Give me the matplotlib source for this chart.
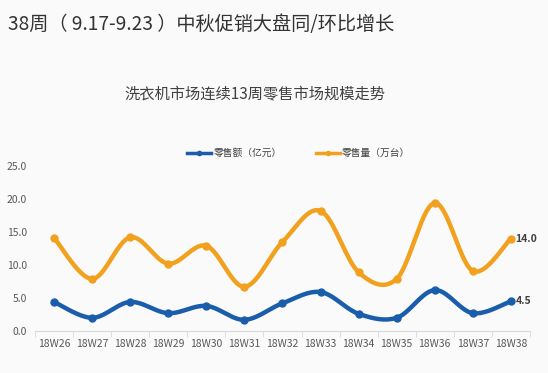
import numpy as np
import matplotlib
matplotlib.use('Agg')
import matplotlib.pyplot as plt
from matplotlib.lines import Line2D

plt.rcParams['font.family'] = ['Noto Sans CJK SC', 'DejaVu Sans']

weeks = ['18W26', '18W27', '18W28', '18W29', '18W30', '18W31', '18W32',
         '18W33', '18W34', '18W35', '18W36', '18W37', '18W38']
sales_amount = [4.4, 2.0, 4.4, 2.7, 3.8, 1.7, 4.2, 5.9, 2.6, 2.0, 6.2, 2.7, 4.5]    # 零售额（亿元）
sales_volume = [14.1, 7.9, 14.2, 10.2, 12.9, 6.7, 13.5, 18.2, 8.9, 7.9, 19.4, 9.1, 14.0]  # 零售量（万台）
yticks = [0, 5, 10, 15, 20, 25]

blue = '#1A5DAA'
orange = '#F2A11F'
bg = '#FAFAFA'


def smooth(x, y, n=20):
    # Catmull-Rom curve through the points, like Excel's smoothed line
    x = np.asarray(x, float)
    y = np.asarray(y, float)
    px = np.concatenate([[x[0]], x, [x[-1]]])
    py = np.concatenate([[y[0]], y, [y[-1]]])
    xs, ys = [], []
    t = np.linspace(0, 1, n, endpoint=False)
    for i in range(1, len(px) - 2):
        for p, out in ((px, xs), (py, ys)):
            p0, p1, p2, p3 = p[i - 1], p[i], p[i + 1], p[i + 2]
            out.extend(0.5 * ((2 * p1) + (-p0 + p2) * t
                              + (2 * p0 - 5 * p1 + 4 * p2 - p3) * t ** 2
                              + (-p0 + 3 * p1 - 3 * p2 + p3) * t ** 3))
    xs.append(x[-1])
    ys.append(y[-1])
    return np.array(xs), np.array(ys)


fig = plt.figure(figsize=(5.48, 3.73), dpi=100, facecolor=bg)
ax = fig.add_axes([0.064, 0.1126, 0.903, 0.4424], facecolor=bg)

x = np.arange(len(weeks))
for vals, col in ((sales_amount, blue), (sales_volume, orange)):
    sx, sy = smooth(x, vals)
    ax.plot(sx, sy, color=col, lw=3.2, solid_capstyle='round', zorder=3)
    ax.plot(x, vals, 'o', color=col, ms=5, zorder=4)

ax.text(x[-1] + 0.12, sales_volume[-1], f'{sales_volume[-1]:.1f}', ha='left', va='center',
        fontsize=7.5, fontweight='bold', color='#404040')
ax.text(x[-1] + 0.12, sales_amount[-1], f'{sales_amount[-1]:.1f}', ha='left', va='center',
        fontsize=7.5, fontweight='bold', color='#404040')

ax.set_xlim(-0.5, len(weeks) - 0.5)
ax.set_ylim(0, 25)
ax.set_yticks(yticks)
ax.set_yticklabels([f'{v:.1f}' for v in yticks])
ax.set_xticks(x)
ax.set_xticklabels(weeks)
ax.set_xticks(np.arange(-0.5, len(weeks)), minor=True)
ax.tick_params(axis='x', which='major', length=0, pad=6, labelsize=7.5, labelcolor='#595959')
ax.tick_params(axis='x', which='minor', length=4, color='#D9D9D9')
ax.tick_params(axis='y', length=0, pad=6, labelsize=7.5, labelcolor='#595959')
for s in ['top', 'right', 'left']:
    ax.spines[s].set_visible(False)
ax.spines['bottom'].set_color('#D9D9D9')

handles = [Line2D([], [], color=blue, lw=2.5, marker='o', ms=3),
           Line2D([], [], color=orange, lw=2.5, marker='o', ms=3)]
fig.legend(handles, ['零售额（亿元）', '零售量（万台）'], loc='center', bbox_to_anchor=(0.545, 0.59),
           ncol=2, frameon=False, fontsize=7, handlelength=2.5, handletextpad=0.2,
           columnspacing=3.5, labelcolor='#404040')

fig.text(0.015, 0.935, '38周（ 9.17-9.23 ）中秋促销大盘同/环比增长', fontsize=13.8,
         color='#333333', ha='left', va='center')
fig.text(0.465, 0.745, '洗衣机市场连续13周零售市场规模走势', fontsize=11,
         color='#404040', ha='center', va='center')

plt.savefig('out.png', dpi=100, facecolor=bg)
